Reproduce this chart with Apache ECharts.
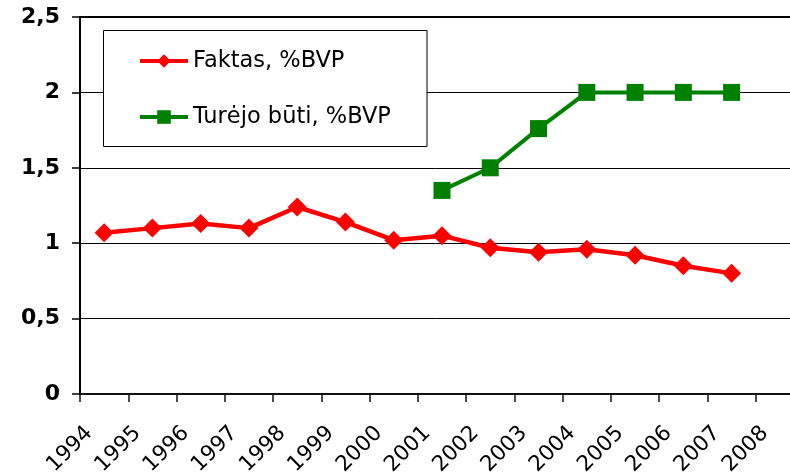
<!DOCTYPE html>
<html>
<head>
<meta charset="utf-8">
<script src="https://cdn.jsdelivr.net/npm/echarts@6/dist/echarts.min.js"></script>
<style>
  html, body { margin: 0; padding: 0; background: #fff; }
  #chart { width: 790px; height: 472px; }
</style>
</head>
<body>
<div id="chart"></div>
<script>
const categories = ['1994','1995','1996','1997','1998','1999','2000','2001','2002','2003','2004','2005','2006','2007','2008'];
const faktas = [1.07, 1.10, 1.13, 1.10, 1.24, 1.14, 1.02, 1.05, 0.97, 0.94, 0.96, 0.92, 0.85, 0.80, null];
const turejo = [null, null, null, null, null, null, null, 1.35, 1.50, 1.76, 2.00, 2.00, 2.00, 2.00, null];
const yTickLabels = ['0', '0,5', '1', '1,5', '2', '2,5'];
const seriesNames = ['Faktas, %BVP', 'Turėjo būti, %BVP'];

const chart = echarts.init(document.getElementById('chart'), null, { renderer: 'canvas' });
const font = 'DejaVu Sans';
chart.setOption({
  animation: false,
  backgroundColor: '#ffffff',
  grid: { left: 80, top: 17, width: 724, height: 377, containLabel: false, outerBoundsMode: 'none' },
  graphic: [{
    type: 'rect', z: 3,
    shape: { x: 103.5, y: 30.5, width: 323.5, height: 116 },
    style: { fill: '#ffffff', stroke: '#000000', lineWidth: 1 }
  }],
  legend: {
    z: 5,
    orient: 'vertical',
    left: 138, top: 49,
    padding: 0,
    itemWidth: 48, itemHeight: 17, itemGap: 32,
    lineStyle: { width: 4 },
    textStyle: { fontFamily: font, fontSize: 22.5, color: '#000', lineHeight: 24 },
    data: seriesNames
  },
  xAxis: [{
    type: 'category',
    data: categories,
    boundaryGap: true,
    axisLine: { show: true, lineStyle: { color: '#111', width: 2 } },
    axisTick: { show: true, length: 8, alignWithLabel: false, interval: 0, lineStyle: { color: '#111', width: 1.5 } },
    axisLabel: {
      interval: 0, rotate: 45, margin: 21, padding: [0, 21, 0, 0],
      fontFamily: font, fontSize: 21.5, color: '#000'
    },
    splitLine: { show: false }
  }, {
    type: 'category',
    position: 'top',
    data: categories,
    axisLine: { show: true, lineStyle: { color: '#000', width: 2 } },
    axisTick: { show: false },
    axisLabel: { show: false }
  }],
  yAxis: {
    type: 'value',
    min: 0, max: 2.5, interval: 0.5,
    axisLine: { show: true, lineStyle: { color: '#000', width: 2 } },
    axisTick: { show: true, length: 8, lineStyle: { color: '#000', width: 1.5 } },
    axisLabel: {
      margin: 20, fontFamily: font, fontSize: 22, fontWeight: 'bold', color: '#000',
      formatter: (v, i) => yTickLabels[i]
    },
    splitLine: { show: true, lineStyle: { color: '#000', width: 1 } }
  },
  series: [{
    name: seriesNames[0],
    type: 'line',
    data: faktas,
    symbol: 'diamond', symbolSize: 19,
    lineStyle: { color: '#ff0000', width: 4.5 },
    itemStyle: { color: '#ff0000' },
    connectNulls: false
  }, {
    name: seriesNames[1],
    type: 'line',
    data: turejo,
    symbol: 'rect', symbolSize: 17,
    lineStyle: { color: '#008000', width: 4 },
    itemStyle: { color: '#008000' },
    connectNulls: false
  }]
});
</script>
</body>
</html>
